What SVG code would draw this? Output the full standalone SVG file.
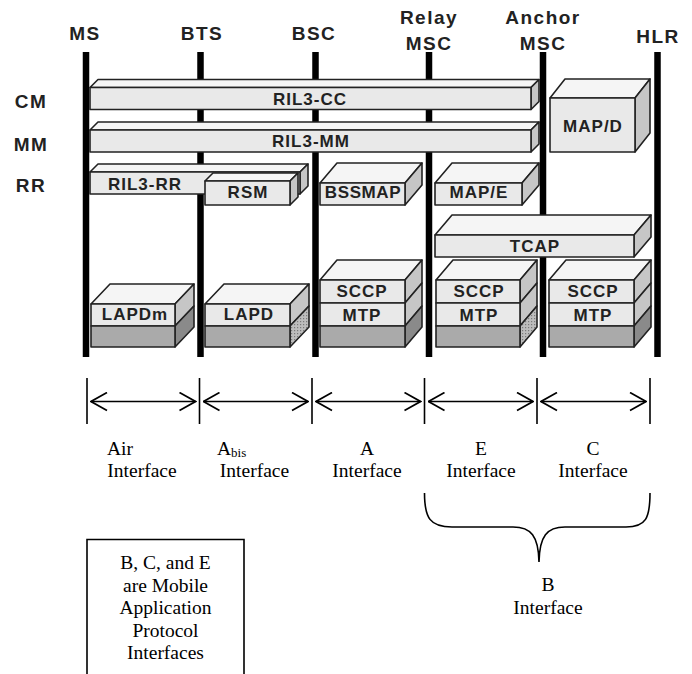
<svg xmlns="http://www.w3.org/2000/svg" width="692" height="674" viewBox="0 0 692 674">
<defs>
<style>
.hd{font-family:"Liberation Sans",Arial,sans-serif;font-weight:bold;font-size:19px;fill:#222;text-anchor:middle;letter-spacing:1.5px}
.bx{font-family:"Liberation Sans",Arial,sans-serif;font-weight:bold;font-size:17px;fill:#222;text-anchor:middle;letter-spacing:1px}
.sf{font-family:"Liberation Serif","Times New Roman",serif;font-size:19.5px;fill:#000}
.mid{text-anchor:middle}
.bar{fill:#000}
.top{fill:#f5f5f5;stroke:#222;stroke-width:1.6;stroke-linejoin:round}
.front{fill:#e9e9e9;stroke:#222;stroke-width:1.6;stroke-linejoin:round}
.side{fill:#c6c6c6;stroke:#222;stroke-width:1.6;stroke-linejoin:round}
.bfront{fill:#aaaaaa;stroke:#222;stroke-width:1.6;stroke-linejoin:round}
.bside{fill:#8a8a8a;stroke:#222;stroke-width:1.6;stroke-linejoin:round}
.dside{fill:url(#dots);stroke:#222;stroke-width:1.6;stroke-linejoin:round}
.ln{stroke:#000;stroke-width:1.6;fill:none}
</style>
<pattern id="dots" patternUnits="userSpaceOnUse" width="3" height="3">
<rect width="3" height="3" fill="#bdbdbd"/>
<rect width="1.2" height="1.2" fill="#7a7a7a"/>
</pattern>
<marker id="arr" viewBox="0 0 18 20" refX="17" refY="10" markerWidth="18" markerHeight="20" markerUnits="userSpaceOnUse" orient="auto-start-reverse">
<path d="M1,1 L17,10 L1,19" fill="none" stroke="#000" stroke-width="1.7"/>
</marker>
</defs>
<rect width="692" height="674" fill="#fff"/>

<g id="headers">
<text class="hd" x="85" y="40">MS</text>
<text class="hd" x="202" y="40">BTS</text>
<text class="hd" x="314" y="40">BSC</text>
<text class="hd" x="429" y="24">Relay</text>
<text class="hd" x="429" y="50">MSC</text>
<text class="hd" x="543" y="24">Anchor</text>
<text class="hd" x="543" y="50">MSC</text>
<text class="hd" x="658" y="43">HLR</text>
<text class="hd" x="31" y="108">CM</text>
<text class="hd" x="31" y="151">MM</text>
<text class="hd" x="31" y="192">RR</text>
</g>

<g id="bars">
<rect class="bar" x="82.75" y="52" width="6.5" height="305"/>
<rect class="bar" x="197.25" y="52" width="6.5" height="305"/>
<rect class="bar" x="312.25" y="52" width="6.5" height="305"/>
<rect class="bar" x="425.75" y="52" width="6.5" height="305"/>
<rect class="bar" x="539.75" y="52" width="6.5" height="305"/>
<rect class="bar" x="654.25" y="52" width="6.5" height="305"/>
</g>

<g id="node-ril3-cc">
<polygon class="top" points="90,87.5 98,79.5 539,79.5 531,87.5"/>
<polygon class="side" points="531,87.5 539,79.5 539,101.5 531,109.5"/>
<rect class="front" x="90" y="87.5" width="441" height="22"/>
<text class="bx" x="310" y="105">RIL3-CC</text>
</g>

<g id="node-ril3-mm">
<polygon class="top" points="90,130 98,122 539,122 531,130"/>
<polygon class="side" points="531,130 539,122 539,144 531,152"/>
<rect class="front" x="90" y="130" width="441" height="22"/>
<text class="bx" x="311" y="147">RIL3-MM</text>
</g>

<g id="node-ril3-rr">
<polygon class="top" points="90,172 98,164 308,164 300,172"/>
<polygon class="side" points="300,172 308,164 308,186 300,194"/>
<rect class="front" x="90" y="172" width="210" height="22"/>
<text class="bx" x="145" y="190">RIL3-RR</text>
</g>

<g id="node-rsm">
<polygon class="top" points="205,181 213,173 298,173 290,181"/>
<polygon class="side" points="290,181 298,173 298,197 290,205"/>
<rect class="front" x="205" y="181" width="85" height="24"/>
<text class="bx" x="248" y="198">RSM</text>
</g>

<g id="node-map-d">
<polygon class="top" points="550,98 565,79 650,79 635,98"/>
<polygon class="side" points="635,98 650,79 650,133 635,152"/>
<rect class="front" x="550" y="98" width="85" height="54"/>
<text class="bx" x="593" y="132">MAP/D</text>
</g>

<g id="node-bssmap">
<polygon class="top" points="320,183 337,163 422,163 405,183"/>
<polygon class="side" points="405,183 422,163 422,185 405,205"/>
<rect class="front" x="320" y="183" width="85" height="22"/>
<text class="bx" x="363" y="198" style="letter-spacing:0.6px">BSSMAP</text>
</g>

<g id="node-map-e">
<polygon class="top" points="435,183 452,163 539,163 522,183"/>
<polygon class="side" points="522,183 539,163 539,185 522,205"/>
<rect class="front" x="435" y="183" width="87" height="22"/>
<text class="bx" x="479" y="198">MAP/E</text>
</g>

<g id="node-tcap">
<polygon class="top" points="435,235 452,215 651,215 634,235"/>
<polygon class="side" points="634,235 651,215 651,237 634,257"/>
<rect class="front" x="435" y="235" width="199" height="22"/>
<text class="bx" x="535" y="251.5">TCAP</text>
</g>

<g id="node-bsc-stack">
<polygon class="top" points="320,280 337,260 422,260 405,280"/>
<polygon class="side" points="405,280 422,260 422,283 405,303"/>
<polygon class="side" points="405,303 422,283 422,306 405,326"/>
<polygon class="bside" points="405,326 422,306 422,327 405,347"/>
<rect class="front" x="320" y="280" width="85" height="23"/>
<rect class="front" x="320" y="303" width="85" height="23"/>
<rect class="bfront" x="320" y="326" width="85" height="21"/>
<text class="bx" x="362" y="297">SCCP</text>
<text class="bx" x="362" y="320.5">MTP</text>
</g>

<g id="node-relay-stack">
<polygon class="top" points="436,280 453,260 537,260 520,280"/>
<polygon class="side" points="520,280 537,260 537,283 520,303"/>
<polygon class="side" points="520,303 537,283 537,306 520,326"/>
<polygon class="dside" points="520,326 537,306 537,327 520,347"/>
<rect class="front" x="436" y="280" width="84" height="23"/>
<rect class="front" x="436" y="303" width="84" height="23"/>
<rect class="bfront" x="436" y="326" width="84" height="21"/>
<text class="bx" x="479" y="297">SCCP</text>
<text class="bx" x="479" y="320.5">MTP</text>
</g>

<g id="node-anchor-stack">
<polygon class="top" points="549,280 566,260 651,260 634,280"/>
<polygon class="side" points="634,280 651,260 651,283 634,303"/>
<polygon class="side" points="634,303 651,283 651,306 634,326"/>
<polygon class="bside" points="634,326 651,306 651,327 634,347"/>
<rect class="front" x="549" y="280" width="85" height="23"/>
<rect class="front" x="549" y="303" width="85" height="23"/>
<rect class="bfront" x="549" y="326" width="85" height="21"/>
<text class="bx" x="593" y="297">SCCP</text>
<text class="bx" x="593" y="320.5">MTP</text>
</g>

<g id="node-lapdm">
<polygon class="top" points="91,304 110,284 194,284 175,304"/>
<polygon class="side" points="175,304 194,284 194,306 175,326"/>
<polygon class="bside" points="175,326 194,306 194,327 175,347"/>
<rect class="front" x="91" y="304" width="84" height="22"/>
<rect class="bfront" x="91" y="326" width="84" height="21"/>
<text class="bx" x="135" y="320">LAPDm</text>
</g>

<g id="node-lapd">
<polygon class="top" points="205,304 224,284 309,284 290,304"/>
<polygon class="side" points="290,304 309,284 309,306 290,326"/>
<polygon class="dside" points="290,326 309,306 309,327 290,347"/>
<rect class="front" x="205" y="304" width="85" height="22"/>
<rect class="bfront" x="205" y="326" width="85" height="21"/>
<text class="bx" x="249" y="320">LAPD</text>
</g>

<g id="connectors">
<line class="ln" x1="87" y1="378" x2="87" y2="424"/>
<line class="ln" x1="199.5" y1="378" x2="199.5" y2="424"/>
<line class="ln" x1="312" y1="378" x2="312" y2="424"/>
<line class="ln" x1="424.5" y1="378" x2="424.5" y2="424"/>
<line class="ln" x1="537" y1="378" x2="537" y2="424"/>
<line class="ln" x1="650" y1="378" x2="650" y2="424"/>
<line class="ln" x1="91" y1="401.5" x2="195.5" y2="401.5" marker-start="url(#arr)" marker-end="url(#arr)"/>
<line class="ln" x1="203.5" y1="401.5" x2="308" y2="401.5" marker-start="url(#arr)" marker-end="url(#arr)"/>
<line class="ln" x1="316" y1="401.5" x2="420.5" y2="401.5" marker-start="url(#arr)" marker-end="url(#arr)"/>
<line class="ln" x1="428.5" y1="401.5" x2="533" y2="401.5" marker-start="url(#arr)" marker-end="url(#arr)"/>
<line class="ln" x1="541" y1="401.5" x2="646" y2="401.5" marker-start="url(#arr)" marker-end="url(#arr)"/>
<path class="ln" d="M424.5,493 C424.5,518 430,527 452,527 L513,527 C531,527 538.5,536 539,562 C539.5,536 547,527 565,527 L626,527 C646,527 650,518 650,493"/>
</g>

<g id="labels">
<text class="sf" x="107" y="455">Air</text>
<text class="sf mid" x="142" y="477">Interface</text>
<text class="sf" x="217" y="455">A<tspan font-size="13" dy="2">bis</tspan></text>
<text class="sf mid" x="254.5" y="477">Interface</text>
<text class="sf mid" x="367" y="455">A</text>
<text class="sf mid" x="367" y="477">Interface</text>
<text class="sf mid" x="481" y="455">E</text>
<text class="sf mid" x="481" y="477">Interface</text>
<text class="sf mid" x="593" y="455">C</text>
<text class="sf mid" x="593" y="477">Interface</text>
<text class="sf mid" x="548" y="591">B</text>
<text class="sf mid" x="548" y="614">Interface</text>
</g>

<g id="note">
<path class="ln" d="M87,690 L87,539.5 L244,539.5 L244,690"/>
<text class="sf mid" x="165.5" y="569">B, C, and E</text>
<text class="sf mid" x="165.5" y="591.5">are Mobile</text>
<text class="sf mid" x="165.5" y="614">Application</text>
<text class="sf mid" x="165.5" y="636.5">Protocol</text>
<text class="sf mid" x="165.5" y="659">Interfaces</text>
</g>
</svg>
